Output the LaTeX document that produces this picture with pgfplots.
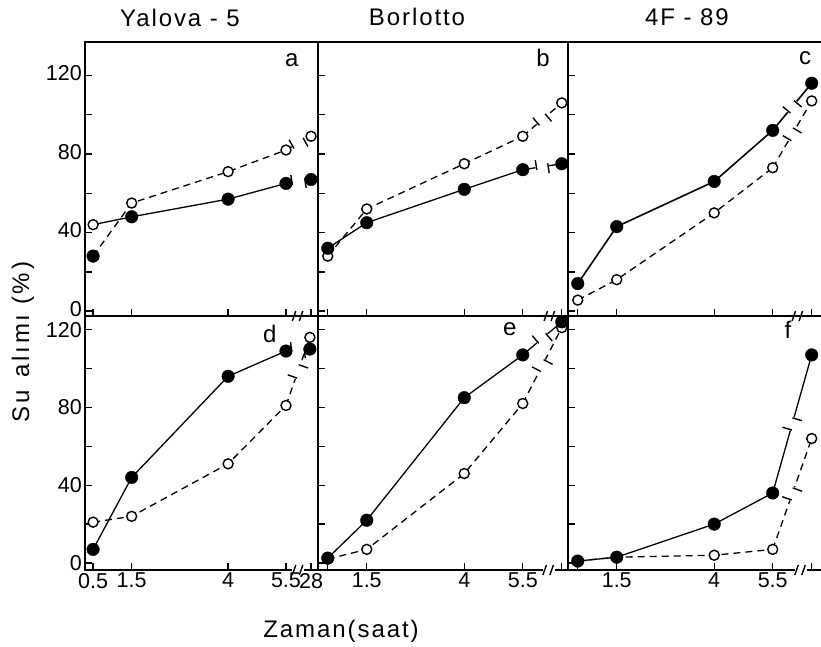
\documentclass[border=0pt]{standalone}
\usepackage{fontspec}
\setmainfont{Liberation Sans}
\newfontfamily\spaced[LetterSpace=8]{Liberation Sans}
\newfontfamily\wide[LetterSpace=12]{Liberation Sans}
\usepackage{pgfplots}
\pgfplotsset{compat=1.18}

\pgfplotsset{
  panel/.style={
    scale only axis, clip=false,
    axis line style={line width=2.2pt},
    tick style={line width=1.4pt, black},
    tick align=inside, tick pos=left,
    major tick length=7pt,
    ytick={0,20,40,60,80,100,120},
    yticklabels={,,}, xticklabels={,,},
    /pgf/number format/assume math mode=true,
    ticklabel style={font=\fontsize{21.5}{21.5}\selectfont, inner sep=1pt},
    xticklabel style={yshift=-2pt},
  },
  toprow/.style={height=274pt, ymin=-2.5, ymax=137, yticklabel style={xshift=-2pt, yshift=2pt}},
  botrow/.style={height=254pt, ymin=-3.6, ymax=127, yticklabel style={xshift=-2pt}},
  cola/.style={width=233pt, xmin=0.29, xmax=6.33, xtick={0.5,1.5,4,5.5,6.15}},
  colb/.style={width=250pt, xmin=0.25, xmax=6.66, xtick={0.5,1.5,4,5.5,6.5}},
  colc/.style={width=255pt, xmin=0.25, xmax=6.79, xtick={0.5,1.5,4,5.5,6.5}},
  sol/.style={no marks, line width=1.3pt, black},
  dsh/.style={no marks, line width=1.3pt, black, dash pattern=on 7pt off 5pt},
  fil/.style={only marks, mark=*, mark size=6.3pt, mark options={fill=black, draw=black, solid}},
  opn/.style={only marks, mark=*, mark size=5pt, mark options={fill=white, draw=black, line width=1.4pt, solid}},
}
\newcommand{\bars}{\tikz[baseline=(current bounding box.center)]{\draw[line width=1.4pt, solid, black] (0,-5pt)--(0,5pt) (2pt,-5pt)--(2pt,5pt);}}
\tikzset{
  brk/.style={pos=0.5, sloped, fill=white, inner sep=0.3pt},
  plab/.style={font=\fontsize{24}{24}\selectfont},
}
% break on the x axis
\newcommand{\xbrk}[2]{%
  \fill[white] (axis cs:#1,#2) ++(-6pt,-1.8pt) rectangle ++(12pt,3.6pt);
  \draw[line width=1.4pt] (axis cs:#1,#2) ++(-6pt,-5pt) -- ++(3.5pt,10pt);
  \draw[line width=1.4pt] (axis cs:#1,#2) ++(1pt,-5pt) -- ++(3.5pt,10pt);}

\begin{document}
\begin{tikzpicture}
\useasboundingbox (0,0) rectangle (821pt,-647pt);

% a : Yalova-5, top
\begin{axis}[panel, toprow, cola, at={(85pt,-316pt)}, anchor=south west, yticklabels={0,,40,,80,,120}]
  \addplot[sol] coordinates {(0.5,44) (1.5,48) (4,57) (5.5,65)};
  \addplot[sol] coordinates {(5.5,65) (6.15,67)} node[brk]{\bars};
  \addplot[dsh] coordinates {(0.5,28) (1.5,55) (4,71) (5.5,82)};
  \addplot[dsh] coordinates {(5.5,82) (6.15,89)} node[brk]{\bars};
  \addplot[opn] coordinates {(0.5,44) (1.5,55) (4,71) (5.5,82) (6.15,89)};
  \addplot[fil] coordinates {(0.5,28) (1.5,48) (4,57) (5.5,65) (6.15,67)};
  \xbrk{5.82}{-2.5}
  \node[plab] at (axis cs:5.65,128) {a};
\end{axis}

% b : Borlotto, top
\begin{axis}[panel, toprow, colb, at={(318pt,-316pt)}, anchor=south west]
  \addplot[sol] coordinates {(0.5,32) (1.5,45) (4,62) (5.5,72)};
  \addplot[sol] coordinates {(5.5,72) (6.5,75)} node[brk]{\bars};
  \addplot[dsh] coordinates {(0.5,28) (1.5,52) (4,75) (5.5,89)};
  \addplot[dsh] coordinates {(5.5,89) (6.5,106)} node[brk]{\bars};
  \addplot[opn] coordinates {(0.5,28) (1.5,52) (4,75) (5.5,89) (6.5,106)};
  \addplot[fil] coordinates {(0.5,32) (1.5,45) (4,62) (5.5,72) (6.5,75)};
  \xbrk{6.2}{-2.5}
  \node[plab] at (axis cs:6.02,129) {b};
\end{axis}

% c : 4F-89, top
\begin{axis}[panel, toprow, colc, at={(568pt,-316pt)}, anchor=south west]
  \addplot[sol, line width=1.6pt] coordinates {(0.5,14) (1.5,43) (4,66) (5.5,92)};
  \addplot[sol, line width=1.6pt] coordinates {(5.5,92) (6.5,116)} node[brk]{\bars};
  \addplot[dsh] coordinates {(0.5,5.6) (1.5,16) (4,50) (5.5,73)};
  \addplot[dsh] coordinates {(5.5,73) (6.5,107)} node[brk]{\bars};
  \addplot[opn] coordinates {(0.5,5.6) (1.5,16) (4,50) (5.5,73) (6.5,107)};
  \addplot[fil] coordinates {(0.5,14) (1.5,43) (4,66) (5.5,92) (6.5,116)};
  \xbrk{6.15}{-2.5}
  \node[plab] at (axis cs:6.33,129) {c};
\end{axis}

% d : Yalova-5, bottom
\begin{axis}[panel, botrow, cola, at={(85pt,-570pt)}, anchor=south west,
  yticklabels={0,,40,,80,,120}, xticklabels={0.5,1.5,4,5.5,28}]
  \addplot[sol] coordinates {(0.5,7) (1.5,44) (4,96) (5.5,109)};
  \addplot[sol] coordinates {(5.5,109) (6.12,110)} node[brk]{\bars};
  \addplot[dsh] coordinates {(0.5,21) (1.5,24) (4,51) (5.5,81)};
  \addplot[dsh] coordinates {(5.5,81) (6.12,116)} node[brk]{\bars};
  \addplot[opn] coordinates {(0.5,21) (1.5,24) (4,51) (5.5,81) (6.12,116)};
  \addplot[fil] coordinates {(0.5,7) (1.5,44) (4,96) (5.5,109) (6.12,110)};
  \xbrk{5.82}{-3.6}
  \node[plab] at (axis cs:5.08,118) {d};
\end{axis}

% e : Borlotto, bottom
\begin{axis}[panel, botrow, colb, at={(318pt,-570pt)}, anchor=south west,
  xticklabels={,1.5,4,5.5,}]
  \addplot[sol] coordinates {(0.5,2.5) (1.5,22) (4,85) (5.5,107)};
  \addplot[sol] coordinates {(5.5,107) (6.5,124)} node[brk]{\bars};
  \addplot[dsh] coordinates {(0.5,2) (1.5,7) (4,46) (5.5,82)};
  \addplot[dsh] coordinates {(5.5,82) (6.5,121)} node[brk]{\bars};
  \addplot[opn] coordinates {(0.5,2) (1.5,7) (4,46) (5.5,82) (6.5,121)};
  \addplot[fil] coordinates {(0.5,2.5) (1.5,22) (4,85) (5.5,107) (6.5,124)};
  \xbrk{6.17}{-3.6}
  \node[plab] at (axis cs:5.17,120) {e};
\end{axis}

% f : 4F-89, bottom
\begin{axis}[panel, botrow, colc, at={(568pt,-570pt)}, anchor=south west,
  xticklabels={,1.5,4,5.5,}]
  \addplot[sol] coordinates {(0.5,1) (1.5,3) (4,20) (5.5,36)};
  \addplot[sol] coordinates {(5.5,36) (6.5,107)} node[brk]{\bars};
  \addplot[dsh] coordinates {(0.5,1) (1.5,3) (4,4) (5.5,7)};
  \addplot[dsh] coordinates {(5.5,7) (6.5,64)} node[brk]{\bars};
  \addplot[opn] coordinates {(0.5,1) (1.5,3) (4,4) (5.5,7) (6.5,64)};
  \addplot[fil] coordinates {(0.5,1) (1.5,3) (4,20) (5.5,36) (6.5,107)};
  \xbrk{6.22}{-3.6}
  \node[plab] at (axis cs:5.89,120) {f};
\end{axis}

\node[font=\fontsize{24}{24}\selectfont\spaced] at (180pt,-18pt) {Yalova - 5};
\node[font=\fontsize{24}{24}\selectfont\spaced] at (417pt,-17pt) {Borlotto};
\node[font=\fontsize{24}{24}\selectfont\spaced] at (687pt,-17pt) {4F - 89};
\node[font=\fontsize{24}{24}\selectfont\wide, rotate=90] at (23pt,-342pt) {Su\hspace{12pt}alımı (\%)};
\node[font=\fontsize{24}{24}\selectfont\spaced] at (341pt,-631pt) {Zaman(saat)};
\end{tikzpicture}
\end{document}
